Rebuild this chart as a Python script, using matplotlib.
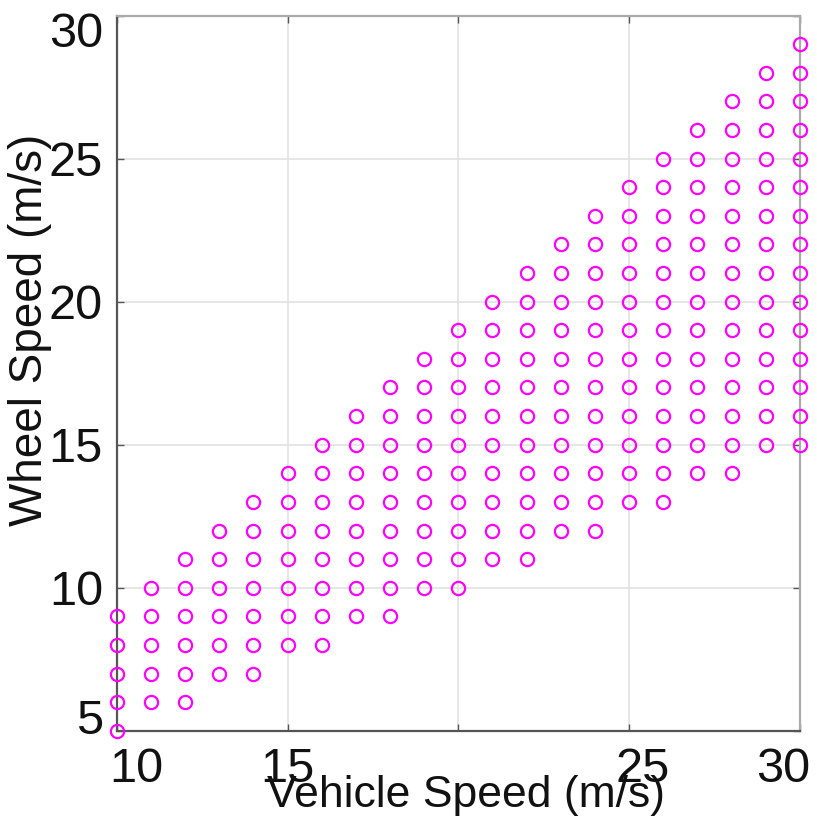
"""Wheel speed vs. vehicle speed operating grid (scatter of sampled points)."""

import matplotlib
matplotlib.use("Agg")
import matplotlib.pyplot as plt
from matplotlib.transforms import ScaledTranslation

# one column of samples per vehicle speed; wheel speeds run from low to high (step 1)
vehicle_speed = [10, 11, 12, 13, 14, 15, 16, 17, 18, 19, 20,
                 21, 22, 23, 24, 25, 26, 27, 28, 29, 30]
wheel_low = [5, 6, 6, 7, 7, 8, 8, 9, 9, 10, 10,
             11, 11, 12, 12, 13, 13, 14, 14, 15, 15]
wheel_high = [9, 10, 11, 12, 13, 14, 15, 16, 17, 18, 19,
              20, 21, 22, 23, 24, 25, 26, 27, 28, 29]

x_ticks = [10, 15, 20, 25, 30]
x_tick_labels = ["10", "15", "", "25", "30"]
y_ticks = [5, 10, 15, 20, 25, 30]
y_tick_labels = ["5", "10", "15", "20", "25", "30"]

xs, ys = [], []
for v, lo, hi in zip(vehicle_speed, wheel_low, wheel_high):
    for w in range(lo, hi + 1):
        xs.append(v)
        ys.append(w)

plt.rcParams["font.family"] = ["Liberation Sans", "DejaVu Sans"]

fig = plt.figure(figsize=(8.17, 8.22), dpi=100)
ax = fig.add_axes([0.143, 0.111, 0.836, 0.870])

ax.plot(xs, ys, linestyle="none", marker="o", markersize=9.5,
        markerfacecolor="none", markeredgecolor="#ff00ff",
        markeredgewidth=1.6, clip_on=False, zorder=3)

ax.set_xlim(10, 30)
ax.set_ylim(5, 30)
ax.set_xticks(x_ticks)
ax.set_xticklabels(x_tick_labels)
ax.set_yticks(y_ticks)
ax.set_yticklabels(y_tick_labels)

ax.grid(True, color="#e2e2e2", linewidth=1.2)
ax.set_axisbelow(True)
ax.tick_params(direction="in", length=5, width=1, color="#555555",
               top=True, right=True, labelsize=35, labelcolor="#111111")
ax.tick_params(axis="x", pad=12)
ax.tick_params(axis="y", pad=10)
for side in ("left", "bottom"):
    ax.spines[side].set_color("#555555")
    ax.spines[side].set_linewidth(1.6)
for side in ("top", "right"):
    ax.spines[side].set_color("#aaaaaa")
    ax.spines[side].set_linewidth(1.6)

# tick labels in the original are nudged inside the axis ends
x_shift = [14, 0, 0, 10, -12]
for lab, dx in zip(ax.get_xticklabels(), x_shift):
    lab.set_transform(lab.get_transform() + ScaledTranslation(dx / 72, 0, fig.dpi_scale_trans))
y_shift = [10, 0, 0, 0, 0, -10]
for lab, dy in zip(ax.get_yticklabels(), y_shift):
    lab.set_transform(lab.get_transform() + ScaledTranslation(0, dy / 72, fig.dpi_scale_trans))

ax.set_xlabel("Vehicle Speed (m/s)", fontsize=32, color="#111111")
ax.xaxis.set_label_coords(0.511, -0.062)
ax.set_ylabel("Wheel Speed (m/s)", fontsize=33, color="#111111")
ax.yaxis.set_label_coords(-0.095, 0.56)

fig.savefig("out.png", dpi=100)
